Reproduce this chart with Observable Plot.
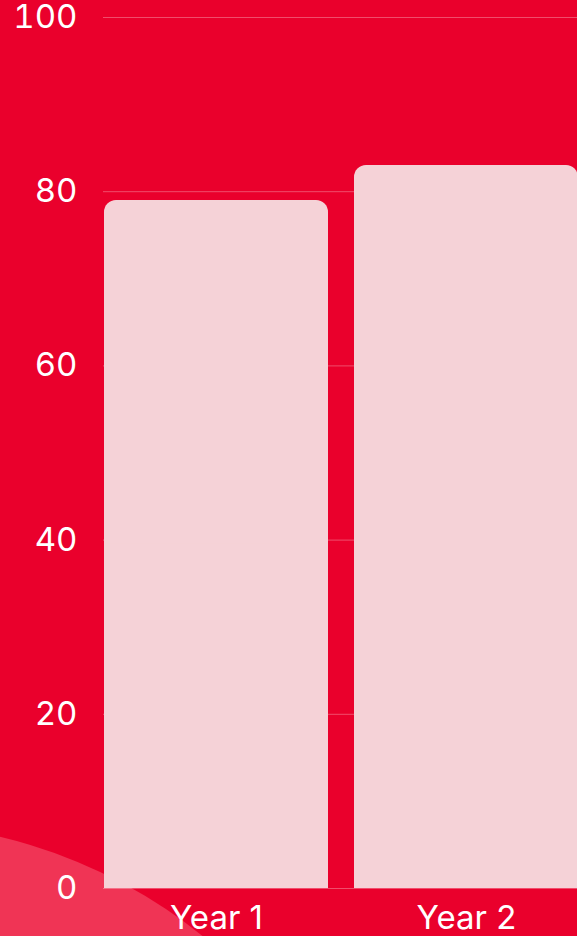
<!DOCTYPE html>
<html>
<head>
<meta charset="utf-8">
<script src="https://cdn.jsdelivr.net/npm/d3@7"></script>
<script src="https://cdn.jsdelivr.net/npm/@observablehq/plot@0.6"></script>
<style>
  html, body { margin: 0; padding: 0; width: 577px; height: 936px; overflow: hidden; background: #EA002C; }
  #wrap { position: relative; width: 577px; height: 936px; overflow: hidden; }
  #blob { position: absolute; left: -629px; top: 823px; width: 1022px; height: 1022px; border-radius: 50%; background: #F03455; }
  #chart { position: absolute; left: 0; top: 0; width: 591px; }
  #chart svg { overflow: visible; max-width: none !important; width: 591px; height: 936px; }
</style>
</head>
<body>
<div id="wrap"><div id="blob"></div><div id="chart"></div></div>
<script>
const categories = ["Year 1", "Year 2"];
const values = [79, 83];
const yTicks = [0, 20, 40, 60, 80, 100];

const data = categories.map((c, i) => ({category: c, value: values[i]}));

const chart = Plot.plot({
  width: 591,
  height: 936,
  marginLeft: 91,
  marginRight: 0,
  marginTop: 17,
  marginBottom: 48,
  style: {background: "transparent", color: "#ffffff", fontFamily: "Inter, 'Open Sans', sans-serif", fontSize: "33px", overflow: "visible"},
  x: {domain: categories, paddingInner: 0.104, paddingOuter: 0.052, label: null},
  y: {domain: [0, 100], ticks: yTicks, label: null},
  marks: [
    Plot.ruleY(yTicks, {stroke: "#ffffff", strokeOpacity: 0.3, strokeWidth: 1, insetLeft: 12}),
    Plot.barY(data, {x: "category", y: "value", fill: "#F5D2D7", rx: 12, ry: 12}),
    Plot.rectY(data, {x: "category", y1: 0, y2: d => d.value * 0.5, fill: "#F5D2D7"}),
    Plot.axisY({ticks: yTicks, tickSize: 0, tickPadding: 14, fontSize: 33, fill: "#ffffff", fontWeight: 400}),
    Plot.axisX({tickSize: 0, tickPadding: 17, fontSize: 33, fill: "#ffffff", fontWeight: 400})
  ]
});
document.getElementById("chart").appendChild(chart);
</script>
</body>
</html>
